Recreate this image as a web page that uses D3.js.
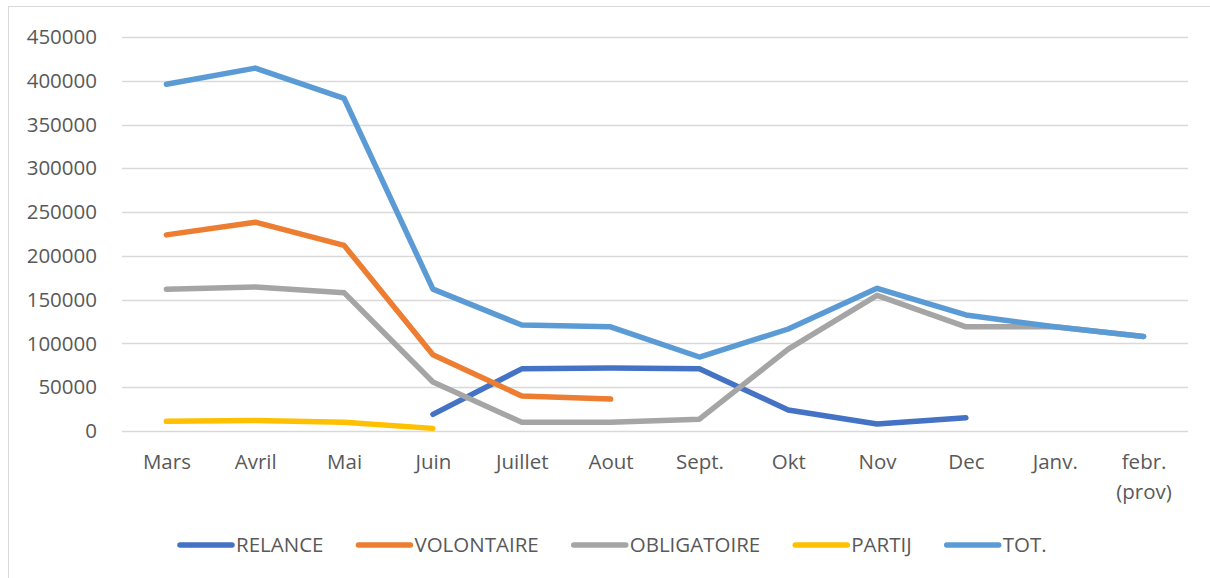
<!DOCTYPE html>
<html lang="fr">
<head>
  <meta charset="UTF-8">
  <title>Lines</title>
  <style>
    body { margin: 0; background: #fff; }
    text { font-family: "Open Sans", sans-serif; fill: #595959; }
  </style>
</head>
<body>
  <script src="https://d3js.org/d3.v7.min.js"></script>
  <script>
    const months = ['Mars', 'Avril', 'Mai', 'Juin', 'Juillet', 'Aout', 'Sept.', 'Okt', 'Nov', 'Dec', 'Janv.', 'febr.\n(prov)'];
    const yTicks = [0, 50000, 100000, 150000, 200000, 250000, 300000, 350000, 400000, 450000];

    const relance     = [null, null, null, 19000, 71000, 72000, 71000, 24000, 8000, 15000, null, null];
    const volontaire  = [224000, 238500, 212000, 87000, 40000, 36500, null, null, null, null, null, null];
    const obligatoire = [162000, 164500, 158000, 56000, 10000, 10000, 13500, 93500, 155000, 119000, 119000, 108000];
    const partij      = [11000, 12000, 10000, 3000, null, null, null, null, null, null, null, null];
    const tot         = [396000, 414500, 380000, 162000, 121000, 119000, 84500, 116500, 163000, 132500, 119000, 108000];

    const series = [
      { name: 'RELANCE', values: relance, color: '#4472C4' },
      { name: 'VOLONTAIRE', values: volontaire, color: '#ED7D31' },
      { name: 'OBLIGATOIRE', values: obligatoire, color: '#A5A5A5' },
      { name: 'PARTIJ', values: partij, color: '#FFC000' },
      { name: 'TOT.', values: tot, color: '#5B9BD5' }
    ];

    const [width, height] = [1210, 578];
    const margin = { top: 37, left: 122, right: 22, bottom: 147 };
    const fontSize = 20.5;

    const svg = d3.select('body').append('svg').attr('width', width).attr('height', height);

    // cadre du graphique
    svg.append('rect')
      .attr('x', 8.5).attr('y', 6.5)
      .attr('width', width).attr('height', height)
      .attr('fill', 'none').attr('stroke', '#d9d9d9');

    const x = d3.scalePoint()
      .domain(months)
      .range([margin.left, width - margin.right])
      .padding(0.5);
    const y = d3.scaleLinear()
      .domain([0, 450000])
      .range([height - margin.bottom, margin.top]);

    // grille
    svg.append('g')
      .selectAll('line')
      .data(yTicks)
      .join('line')
      .attr('x1', margin.left).attr('x2', width - margin.right)
      .attr('y1', d => Math.round(y(d)) + 0.5).attr('y2', d => Math.round(y(d)) + 0.5)
      .attr('stroke', '#d9d9d9').attr('stroke-width', 1.3);

    // axe y
    const yAxis = svg.append('g')
      .attr('transform', `translate(${margin.left - 22}, 0)`)
      .call(d3.axisLeft(y).tickValues(yTicks).tickFormat(d3.format('d')).tickSize(0));
    yAxis.select('.domain').remove();
    yAxis.selectAll('text').attr('font-size', fontSize).attr('font-family', '"Open Sans", sans-serif').attr('fill', '#595959');

    // axe x
    const xAxis = svg.append('g')
      .attr('transform', `translate(0, ${height - margin.bottom})`)
      .call(d3.axisBottom(x).tickSize(0).tickFormat(''));
    xAxis.select('.domain').remove();
    xAxis.selectAll('.tick').each(function (d) {
      const t = d3.select(this).append('text')
        .attr('text-anchor', 'middle')
        .attr('font-size', fontSize)
        .attr('font-family', '"Open Sans", sans-serif')
        .attr('fill', '#595959');
      d.split('\n').forEach((line, i) => {
        t.append('tspan').attr('x', 0).attr('y', 38 + i * 30).text(line);
      });
    });

    // courbes
    const line = d3.line()
      .defined(d => d[1] != null)
      .x(d => x(d[0]))
      .y(d => y(d[1]));

    svg.append('g')
      .selectAll('path')
      .data(series)
      .join('path')
      .attr('d', s => line(months.map((m, i) => [m, s.values[i]])))
      .attr('fill', 'none')
      .attr('stroke', s => s.color)
      .attr('stroke-width', 5.5)
      .attr('stroke-linecap', 'round')
      .attr('stroke-linejoin', 'round');

    // légende
    const legend = svg.append('g').attr('transform', 'translate(0, 545)');
    let lx = 180;
    series.forEach(s => {
      legend.append('line')
        .attr('x1', lx).attr('x2', lx + 52)
        .attr('y1', 0).attr('y2', 0)
        .attr('stroke', s.color).attr('stroke-width', 5.5).attr('stroke-linecap', 'round');
      const t = legend.append('text')
        .attr('x', lx + 56).attr('y', 7)
        .attr('font-size', fontSize)
        .text(s.name);
      lx += 56 + t.node().getComputedTextLength() + 35;
    });
  </script>
</body>
</html>
